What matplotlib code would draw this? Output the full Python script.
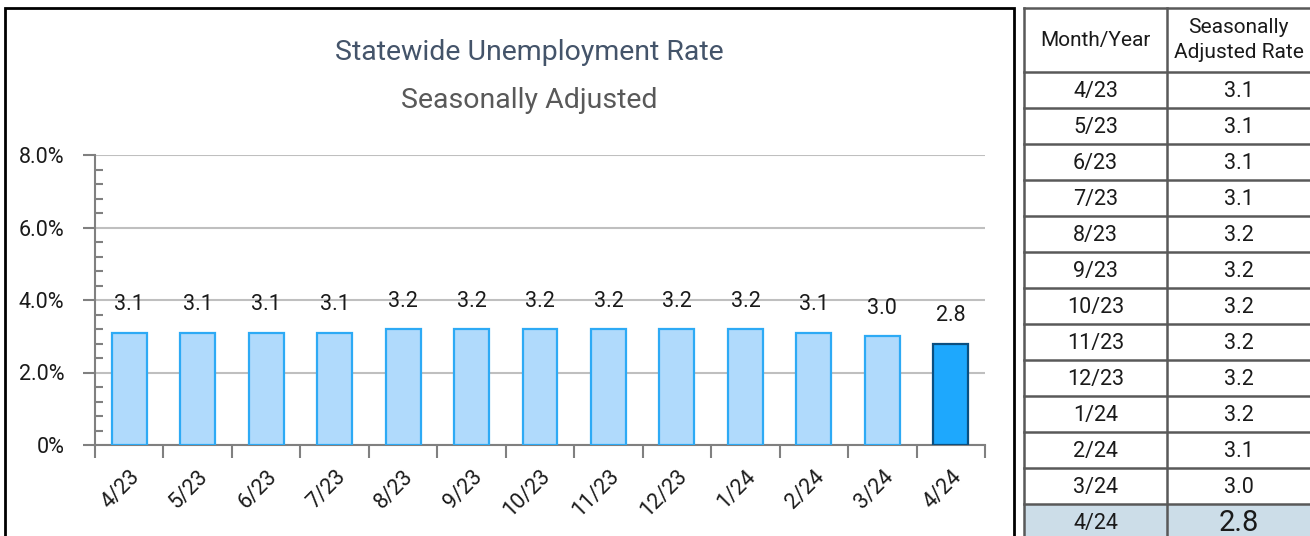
"""Statewide unemployment rate bar chart with side table"""

import matplotlib
matplotlib.use("Agg")
import matplotlib.pyplot as plt
from matplotlib.patches import Rectangle

months = ["4/23", "5/23", "6/23", "7/23", "8/23", "9/23", "10/23",
          "11/23", "12/23", "1/24", "2/24", "3/24", "4/24"]
rates = [3.1, 3.1, 3.1, 3.1, 3.2, 3.2, 3.2, 3.2, 3.2, 3.2, 3.1, 3.0, 2.8]
y_ticks = [0, 2, 4, 6, 8]
y_ticklabels = ["0%", "2.0%", "4.0%", "6.0%", "8.0%"]
table_header = ["Month/Year", "Seasonally\nAdjusted Rate"]

plt.rcParams["font.family"] = ["Roboto", "DejaVu Sans"]

W, H = 1310, 536
fig = plt.figure(figsize=(W / 100, H / 100), dpi=100)

# frame around the chart
fig.patches.append(Rectangle((5 / W, -0.05), (1014 - 5) / W, (H - 8) / H + 0.05,
                             transform=fig.transFigure, fill=False,
                             edgecolor="black", linewidth=2))

fig.text(529 / W, 1 - 53 / H, "Statewide Unemployment Rate", ha="center", va="center",
         fontsize=20.5, color="#44546A")
fig.text(529 / W, 1 - 100 / H, "Seasonally Adjusted", ha="center", va="center",
         fontsize=20.5, color="#595959")

ax = fig.add_axes([95 / W, (H - 445) / H, (985 - 95) / W, (445 - 155) / H])
x = list(range(len(months)))
colors = ["#B0DAFC"] * (len(months) - 1) + ["#1EA8FD"]
edges = ["#2DAAF5"] * (len(months) - 1) + ["#0B4F80"]
ax.bar(x, rates, width=0.51, color=colors, edgecolor=edges, linewidth=1.6, zorder=3)
for xi, r in zip(x, rates):
    ax.annotate(f"{r:.1f}", (xi, r), xytext=(0, 20), textcoords="offset points",
                ha="center", va="center", fontsize=15.5, color="#1a1a1a")

ax.set_xlim(-0.5, len(months) - 0.5)
ax.set_ylim(0, 8)
ax.set_yticks(y_ticks)
ax.set_yticklabels(y_ticklabels)
ax.set_yticks([v / 10 for v in range(0, 80, 4) if v % 20], minor=True)
ax.set_xticks(x)
ax.set_xticklabels(months, rotation=45, ha="right", va="top", rotation_mode="anchor")
ax.set_xticks([v - 0.5 for v in range(len(months) + 1)], minor=True)

ax.tick_params(axis="y", which="major", length=9, width=1.5, color="#808080",
               labelsize=15.5, pad=13, labelcolor="#1a1a1a")
ax.tick_params(axis="y", which="minor", direction="in", length=6, width=1.5, color="#808080")
ax.tick_params(axis="x", which="major", length=0, labelsize=15.5, pad=15, labelcolor="#1a1a1a")
ax.tick_params(axis="x", which="minor", length=9, width=1.5, color="#808080")

ax.grid(axis="y", which="major", color="#BFBFBF", linewidth=1.5, zorder=0)
for side in ["top", "right"]:
    ax.spines[side].set_visible(False)
for side in ["left", "bottom"]:
    ax.spines[side].set_color("#808080")
    ax.spines[side].set_linewidth(1.5)

# side table, drawn in pixel coordinates
tx0, tx1, tcol = 1024, 1330, 1167
ty0, head_h, row_h = 8, 64, 36
ty1 = ty0 + head_h + row_h * len(months)
tab = fig.add_axes([tx0 / W, (H - ty1) / H, (tx1 - tx0) / W, (ty1 - ty0) / H])
tab.set_xlim(tx0, tx1)
tab.set_ylim(ty1, ty0)
tab.axis("off")

last_top = ty0 + head_h + row_h * (len(months) - 1)
tab.add_patch(Rectangle((tx0, last_top), tx1 - tx0, row_h, facecolor="#CCDDE8",
                        edgecolor="none"))
line_kw = dict(color="#595959", linewidth=1.8, clip_on=False)
tab.plot([tx0, tx1], [ty0, ty0], **line_kw)
tab.plot([tx0, tx0], [ty0, ty1], **line_kw)
tab.plot([tcol, tcol], [ty0, ty1], **line_kw)
for k in range(len(months) + 1):
    yy = ty0 + head_h + row_h * k
    tab.plot([tx0, tx1], [yy, yy], **line_kw)

tab.text((tx0 + tcol) / 2, ty0 + head_h / 2, table_header[0], ha="center", va="center",
         fontsize=15, color="#1a1a1a")
tab.text((tcol + 1310) / 2, ty0 + head_h / 2, table_header[1], ha="center", va="center",
         fontsize=15, color="#1a1a1a", linespacing=1.45)
for k, (m, r) in enumerate(zip(months, rates)):
    yc = ty0 + head_h + row_h * k + row_h / 2
    big = k == len(months) - 1
    tab.text((tx0 + tcol) / 2, yc + 1, m, ha="center", va="center", fontsize=15.5,
             color="#1a1a1a")
    tab.text((tcol + 1310) / 2, yc + 1, f"{r:.1f}", ha="center", va="center",
             fontsize=21 if big else 15.5, color="#1a1a1a")

fig.savefig("out.png", dpi=100)
